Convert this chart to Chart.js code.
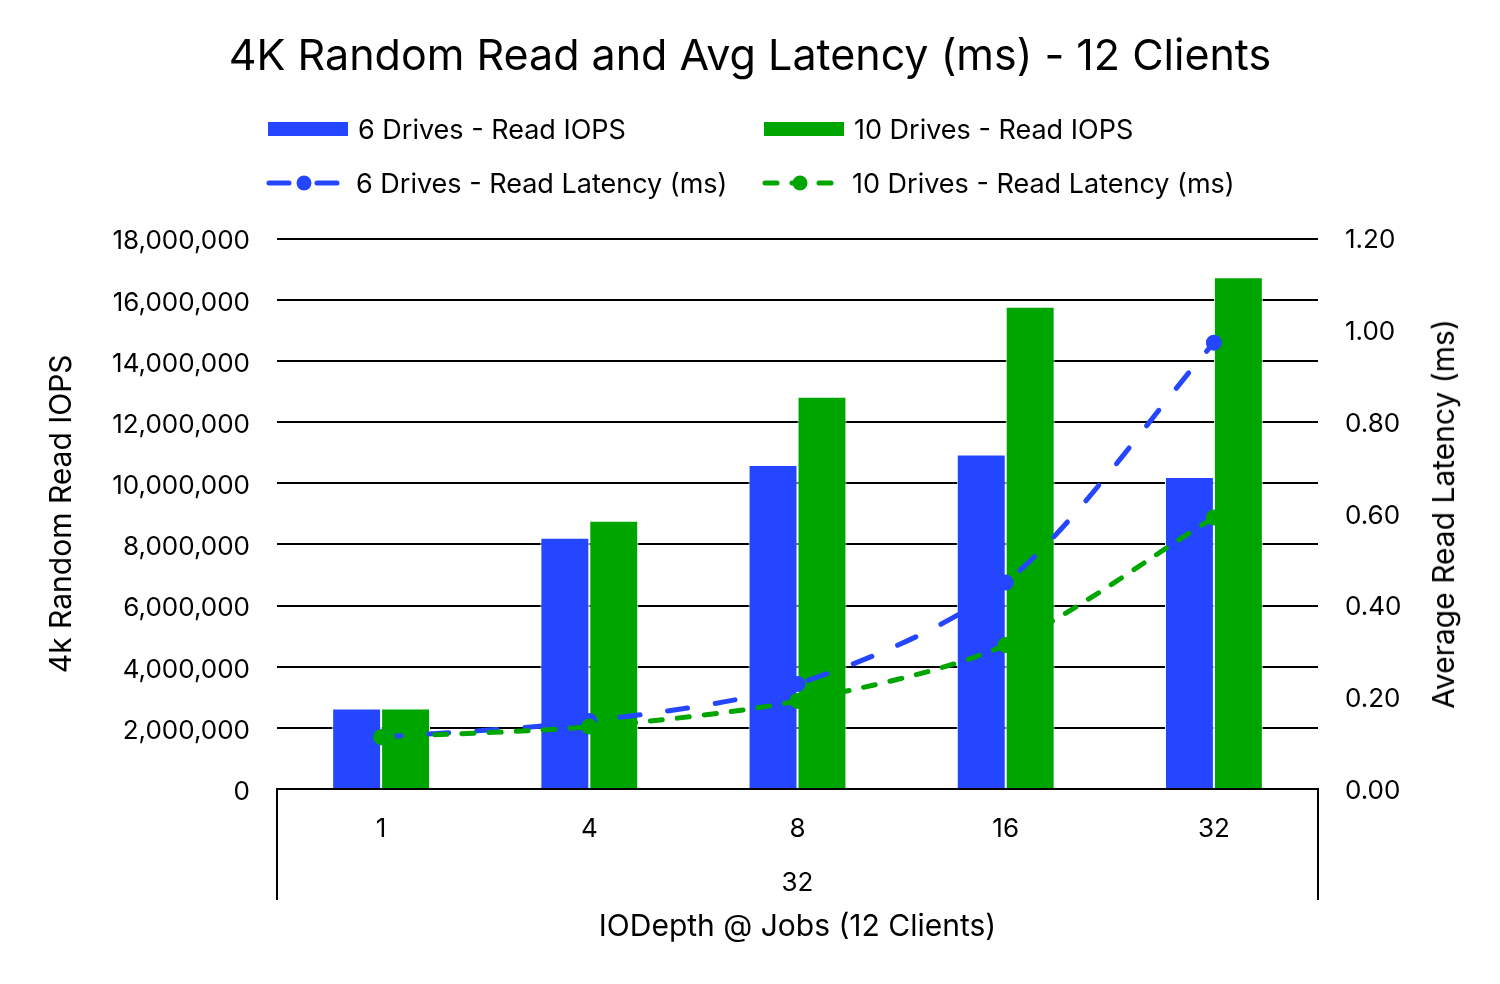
<!DOCTYPE html>
<html>
<head>
<meta charset="utf-8">
<title>4K Random Read and Avg Latency</title>
<script src="https://cdn.jsdelivr.net/npm/chart.js@4.4.0/dist/chart.umd.min.js"></script>
<style>
  body { margin: 0; background: #fff; font-family: Inter, sans-serif; }
  #wrap { position: relative; width: 1500px; height: 984px; }
  #legend { position: absolute; left: 0; top: 0; width: 1500px; }
  .item { position: absolute; display: flex; align-items: center; height: 40px; font-size: 27px; color: #000; white-space: nowrap; }
  .item svg { margin-right: 8px; }
  #y1title { position: absolute; left: 1443px; top: 514px; transform: translate(-50%, -50%) rotate(-90deg);
    font-size: 30px; color: #000; white-space: nowrap; }
</style>
</head>
<body>
<div id="wrap">
  <canvas id="myChart" width="1500" height="984"></canvas>
  <div id="legend"></div>
  <div id="y1title">Average Read Latency (ms)</div>
</div>
<script>
// categories (IODepth) and group label (jobs)
var categories = ["1", "4", "8", "16", "32"];
var groupLabels = ["32"];

// read IOPS
var iops6 = [2630000, 8220000, 10600000, 10940000, 10200000];
var iops10 = [2630000, 8770000, 12830000, 15770000, 16740000];

// avg read latency (ms)
var lat6 = [0.113, 0.148, 0.229, 0.450, 0.973];
var lat10 = [0.113, 0.136, 0.192, 0.314, 0.592];

var blue = "#2446FF";
var green = "#00A600";

Chart.defaults.font.family = "Inter, sans-serif";
Chart.defaults.color = "#000";

// legend (html, two columns)
var legendItems = [
  { text: "6 Drives - Read IOPS", color: blue, kind: "bar", left: 266, top: 109 },
  { text: "10 Drives - Read IOPS", color: green, kind: "bar", left: 762, top: 109 },
  { text: "6 Drives - Read Latency (ms)", color: blue, kind: "line", dash: "20 28", left: 264, top: 163 },
  { text: "10 Drives - Read Latency (ms)", color: green, kind: "line", dash: "12 15", left: 760, top: 163 }
];
var legendEl = document.getElementById("legend");
legendItems.forEach(function (it) {
  var d = document.createElement("div");
  d.className = "item";
  d.style.left = it.left + "px";
  d.style.top = it.top + "px";
  var svg;
  if (it.kind === "bar") {
    svg = '<svg width="84" height="20"><rect x="2" y="3" width="80" height="14" fill="' + it.color + '"/></svg>';
  } else {
    svg = '<svg width="84" height="20"><line x1="3" y1="10" x2="79" y2="10" stroke="' + it.color +
      '" stroke-width="5" stroke-linecap="round" stroke-dasharray="' + it.dash + '" stroke-dashoffset="-2"/>' +
      '<circle cx="40" cy="10" r="7.5" fill="' + it.color + '"/></svg>';
  }
  d.innerHTML = svg + "<span>" + it.text + "</span>";
  legendEl.appendChild(d);
});

// outer box lines under the category axis
var groupBox = {
  id: "groupBox",
  afterDraw: function (chart) {
    var ctx = chart.ctx;
    var a = chart.chartArea;
    var bottom = chart.scales.x2.top + 61;
    ctx.save();
    ctx.strokeStyle = "#000";
    ctx.lineWidth = 2;
    ctx.beginPath();
    ctx.moveTo(a.left, a.bottom);
    ctx.lineTo(a.left, bottom);
    ctx.moveTo(a.right, a.bottom);
    ctx.lineTo(a.right, bottom);
    ctx.stroke();
    ctx.restore();
  }
};

var ctx = document.getElementById("myChart").getContext("2d");
var chart = new Chart(ctx, {
  type: "bar",
  data: {
    labels: categories,
    datasets: [
      {
        label: "6 Drives - Read IOPS",
        data: iops6,
        backgroundColor: blue,
        borderColor: "#fff",
        borderWidth: 1,
        yAxisID: "y",
        order: 3
      },
      {
        label: "10 Drives - Read IOPS",
        data: iops10,
        backgroundColor: green,
        borderColor: "#fff",
        borderWidth: 1,
        yAxisID: "y",
        order: 3
      },
      {
        type: "line",
        label: "6 Drives - Read Latency (ms)",
        data: lat6,
        borderColor: blue,
        backgroundColor: blue,
        borderWidth: 5,
        borderDash: [20, 28],
        borderCapStyle: "round",
        pointRadius: 8,
        pointBorderWidth: 0,
        pointBackgroundColor: blue,
        tension: 0.3,
        yAxisID: "y1",
        order: 2
      },
      {
        type: "line",
        label: "10 Drives - Read Latency (ms)",
        data: lat10,
        borderColor: green,
        backgroundColor: green,
        borderWidth: 5,
        borderDash: [12, 15],
        borderCapStyle: "round",
        pointRadius: 8,
        pointBorderWidth: 0,
        pointBackgroundColor: green,
        tension: 0.3,
        yAxisID: "y1",
        order: 1
      }
    ]
  },
  options: {
    responsive: false,
    animation: false,
    devicePixelRatio: 1,
    datasets: {
      bar: { categoryPercentage: 0.47, barPercentage: 1 }
    },
    layout: { padding: { left: 0, right: 0, top: 0, bottom: 34 } },
    plugins: {
      legend: { display: false },
      tooltip: { enabled: false },
      title: {
        display: true,
        text: "4K Random Read and Avg Latency (ms) - 12 Clients",
        color: "#000",
        font: { size: 43, weight: "normal" },
        padding: { top: 31, bottom: 156 }
      }
    },
    scales: {
      x: {
        type: "category",
        offset: true,
        grid: { display: false, drawTicks: false },
        border: { display: true, color: "#000", width: 2 },
        ticks: { font: { size: 26 }, color: "#000", padding: 25 },
        afterFit: function (s) { s.height = 50; }
      },
      x2: {
        type: "category",
        labels: groupLabels,
        position: "bottom",
        offset: true,
        grid: { display: false, drawTicks: false },
        border: { display: false },
        ticks: { font: { size: 26 }, color: "#000", padding: 29 },
        title: {
          display: true,
          text: "IODepth @ Jobs (12 Clients)",
          color: "#000",
          font: { size: 30 },
          padding: { top: 0, bottom: 5 }
        },
        afterFit: function (s) { s.height = 111; }
      },
      y: {
        position: "left",
        min: 0,
        max: 18000000,
        ticks: {
          stepSize: 2000000,
          font: { size: 26 },
          color: "#000",
          padding: 27,
          labelOffset: 3,
          callback: function (v) { return v.toLocaleString("en-US"); }
        },
        grid: { color: "#000", lineWidth: 2, drawTicks: false },
        border: { display: false },
        title: {
          display: true,
          text: "4k Random Read IOPS",
          color: "#000",
          font: { size: 30 },
          padding: { top: 44, bottom: 0 }
        },
        afterFit: function (s) { s.width = 277; }
      },
      y1: {
        position: "right",
        min: 0,
        max: 1.2,
        ticks: {
          stepSize: 0.2,
          font: { size: 26 },
          color: "#000",
          padding: 27,
          labelOffset: 2,
          callback: function (v) { return v.toFixed(2); }
        },
        grid: { display: false, drawTicks: false },
        border: { display: false },
        afterFit: function (s) { s.width = 182; }
      }
    }
  },
  plugins: [groupBox]
});
</script>
</body>
</html>
